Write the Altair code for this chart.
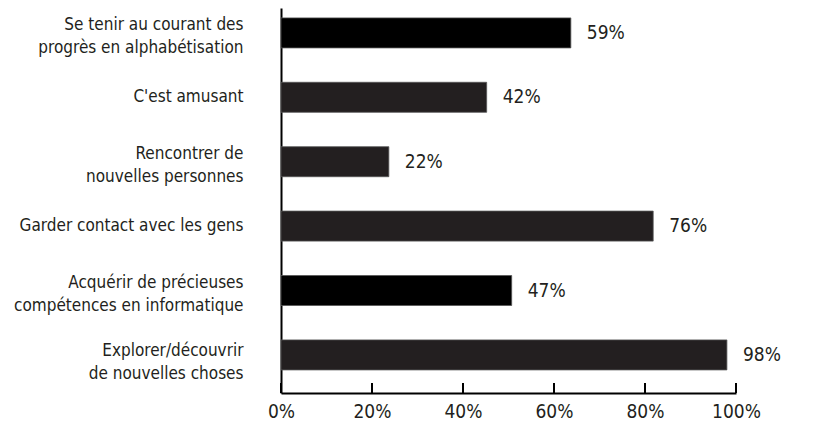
import altair as alt
import pandas as pd

categories = [
    "Se tenir au courant des\nprogrès en alphabétisation",
    "C'est amusant",
    "Rencontrer de\nnouvelles personnes",
    "Garder contact avec les gens",
    "Acquérir de précieuses\ncompétences en informatique",
    "Explorer/découvrir\nde nouvelles choses",
]
bar_lengths = [63.7, 45.2, 23.7, 81.8, 50.7, 98.0]
value_labels = ["59%", "42%", "22%", "76%", "47%", "98%"]
bar_colors = ["#000000", "#231f20", "#231f20", "#231f20", "#000000", "#231f20"]
x_ticks = [0, 20, 40, 60, 80, 100]

FONT = "DejaVu Sans Condensed, Lato"
W, H = 455, 385

df = pd.DataFrame({
    "cat": categories,
    "v": bar_lengths,
    "lab": value_labels,
    "col": bar_colors,
})
ticks_df = pd.DataFrame({"t": x_ticks})

y_enc = alt.Y(
    "cat:N", sort=categories, title=None,
    scale=alt.Scale(paddingInner=0.534, paddingOuter=0.256, align=0.30),
    axis=alt.Axis(
        labelExpr="split(datum.label, '\\n')",
        labelFont=FONT, labelFontSize=17, labelColor="#231f20",
        labelPadding=38, labelLineHeight=23, labelLimit=400,
        labelOffset={"condition": [
            {"test": "indexof(datum.value, 'Explorer') >= 0", "value": -4},
            {"test": "indexof(datum.value, '\\n') >= 0", "value": -8},
        ], "value": 0},
        ticks=False, domainColor="#000000", domainWidth=2,
        labelBaseline="middle",
    ),
)
x_scale = alt.Scale(domain=[0, 100], nice=False)

bars = alt.Chart(df).mark_bar(stroke="#555555", strokeWidth=0.8).encode(
    x=alt.X("v:Q", scale=x_scale, title=None,
            axis=alt.Axis(values=x_ticks, labelExpr="datum.value + '%'",
                          labelFont=FONT, labelFontSize=19, labelColor="#231f20",
                          labelPadding=9, labelFlush=False, ticks=False, grid=False,
                          domainColor="#000000", domainWidth=2)),
    y=y_enc,
    color=alt.Color("col:N", scale=None),
)

texts = alt.Chart(df).mark_text(
    align="left", baseline="middle", dx=16, font=FONT, fontSize=19, color="#231f20"
).encode(
    x=alt.X("v:Q", scale=x_scale),
    y=alt.Y("cat:N", sort=categories),
    text="lab:N",
)

tick_marks = alt.Chart(ticks_df).mark_rule(color="#000000", strokeWidth=2).encode(
    x=alt.X("t:Q", scale=x_scale),
    y=alt.value(H),
    y2=alt.value(H - 10),
)

chart = alt.layer(bars, texts, tick_marks).properties(
    width=W, height=H,
    autosize=alt.AutoSizeParams(type="none"),
    padding={"left": 273, "top": 0, "right": 60, "bottom": 30},
    background="#ffffff",
).configure_view(stroke=None)

chart.save("out.html", embed_options={"renderer": "svg", "actions": False})
